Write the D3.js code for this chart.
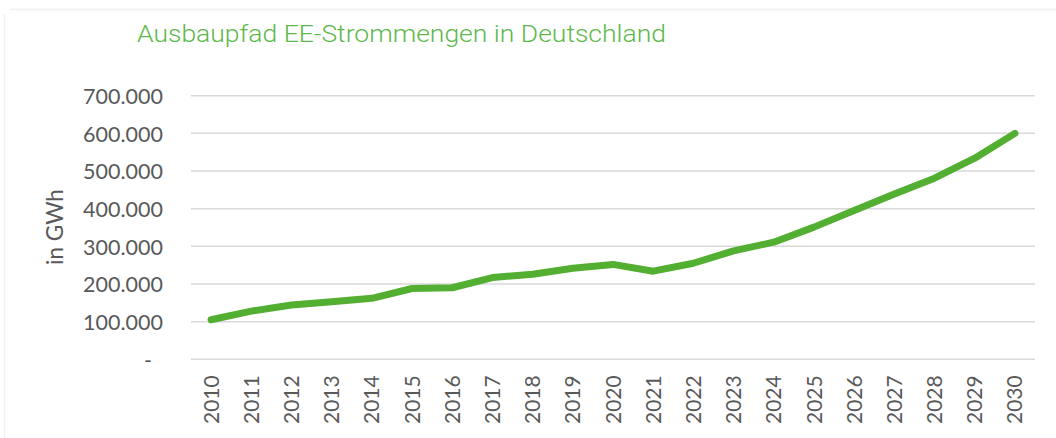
<!DOCTYPE html>
<html>
<head>
<meta charset="utf-8">
<script src="https://cdn.jsdelivr.net/npm/d3@7"></script>
<style>
  body { margin: 0; background: #fff; }
  svg { display: block; }
</style>
</head>
<body>
<svg width="1056" height="438"></svg>
<script>
var years = ["2010", "2011", "2012", "2013", "2014", "2015", "2016", "2017", "2018", "2019", "2020",
             "2021", "2022", "2023", "2024", "2025", "2026", "2027", "2028", "2029", "2030"];
var values = [105000, 128000, 144000, 153000, 162000, 188000, 190000, 217000, 226000, 242000, 252000,
              234000, 255000, 288000, 311000, 351000, 395000, 439000, 481000, 534000, 600000];
var yTicks = [0, 100000, 200000, 300000, 400000, 500000, 600000, 700000];
var title = "Ausbaupfad EE-Strommengen in Deutschland";
var yLabel = "in GWh";

var svg = d3.select("svg");

var margin = { top: 95.7, right: 21, bottom: 78.7, left: 191 };
var width = 1056 - margin.left - margin.right,
    height = 438 - margin.top - margin.bottom;

var de = d3.formatLocale({ decimal: ",", thousands: ".", grouping: [3], currency: ["", " €"] });
var fmt = de.format(",d");

// faint frame
svg.append("line").attr("x1", 10).attr("x2", 1056).attr("y1", 9.5).attr("y2", 9.5)
    .attr("stroke", "#f3f3f3").attr("stroke-width", 2);
svg.append("line").attr("x1", 4.5).attr("x2", 4.5).attr("y1", 14).attr("y2", 438)
    .attr("stroke", "#f3f3f3").attr("stroke-width", 1.5);

svg.append("text")
    .attr("x", 137).attr("y", 42)
    .attr("textLength", 529).attr("lengthAdjust", "spacingAndGlyphs")
    .style("font-family", "Roboto").style("font-weight", 300)
    .style("font-size", "23px").attr("fill", "#5cb94a")
    .text(title);

var x = d3.scaleBand().domain(years).range([0, width]).padding(0),
    y = d3.scaleLinear().domain([0, 700000]).range([height, 0]);

var g = svg.append("g")
    .attr("transform", "translate(" + margin.left + "," + margin.top + ")");

// gridlines
g.selectAll(".grid")
  .data(yTicks)
  .enter().append("line")
    .attr("class", "grid")
    .attr("x1", 0).attr("x2", width)
    .attr("y1", d => y(d)).attr("y2", d => y(d))
    .attr("stroke", "#d9d9d9").attr("stroke-width", 1.5);

var yAxis = g.append("g")
    .call(d3.axisLeft(y).tickValues(yTicks).tickSize(0).tickPadding(28)
        .tickFormat(d => d === 0 ? "-" : fmt(d)));
yAxis.select(".domain").remove();
yAxis.selectAll("text")
    .style("font-family", "Lato").style("font-size", "21.5px")
    .attr("fill", "#595959").attr("dy", "0.36em");
yAxis.selectAll("text").filter(d => d === 0).attr("dx", -11);

var xAxis = g.append("g")
    .attr("transform", "translate(0," + height + ")")
    .call(d3.axisBottom(x).tickSize(0));
xAxis.select(".domain").remove();
xAxis.selectAll("text")
    .style("font-family", "Lato").style("font-size", "21px")
    .attr("fill", "#595959")
    .attr("transform", "rotate(-90)")
    .attr("text-anchor", "end")
    .attr("x", -16).attr("y", 0).attr("dy", "0.36em");

svg.append("text")
    .attr("transform", "translate(63,227) rotate(-90)")
    .attr("text-anchor", "middle")
    .style("font-family", "Lato").style("font-size", "22.5px")
    .attr("fill", "#595959")
    .text(yLabel);

var line = d3.line()
    .x((d, i) => x(years[i]) + x.bandwidth() / 2)
    .y(d => y(d));

g.append("path")
    .datum(values)
    .attr("fill", "none")
    .attr("stroke", "#52af32")
    .attr("stroke-width", 7)
    .attr("stroke-linecap", "round")
    .attr("stroke-linejoin", "round")
    .attr("d", line);
</script>
</body>
</html>
